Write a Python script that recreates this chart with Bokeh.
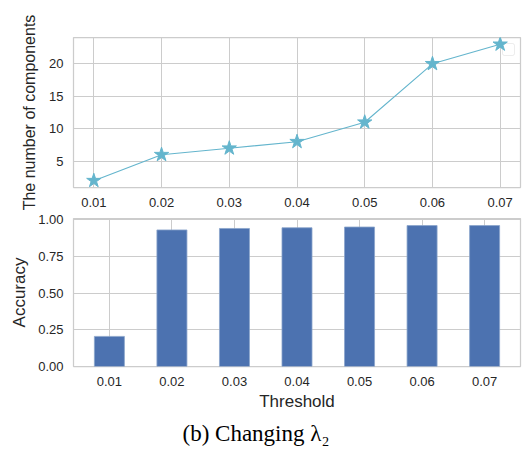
from bokeh.plotting import figure
from bokeh.layouts import column
from bokeh.models import Range1d, FixedTicker, NumeralTickFormatter, Title, BoxAnnotation, ColumnDataSource
from bokeh.embed import file_html
from bokeh.resources import INLINE

thresholds = [0.01, 0.02, 0.03, 0.04, 0.05, 0.06, 0.07]
tick_labels = ["0.01", "0.02", "0.03", "0.04", "0.05", "0.06", "0.07"]
components = [2, 6, 7, 8, 11, 20, 23]
accuracy = [0.205, 0.93, 0.94, 0.945, 0.95, 0.96, 0.96]
comp_ticks = [5, 10, 15, 20]
acc_ticks = [0.0, 0.25, 0.5, 0.75, 1.0]

LINE_C = "#64B5CD"
BAR_C = "#4C72B0"
GRID_C = "#cccccc"
TXT_C = "#262626"
SANS = "Liberation Sans"

def style(p):
    p.background_fill_color = "white"
    p.border_fill_color = "white"
    p.outline_line_color = GRID_C
    p.outline_line_width = 1.25
    for g in (p.xgrid, p.ygrid):
        g.grid_line_color = GRID_C
        g.grid_line_width = 1
    for ax in (p.xaxis, p.yaxis):
        ax.axis_line_color = None
        ax.major_tick_line_color = None
        ax.minor_tick_line_color = None
        ax.major_tick_out = 0
        ax.major_tick_in = 0
        ax.major_label_text_font = SANS
        ax.major_label_text_font_size = "13px"
        ax.major_label_text_color = TXT_C
        ax.major_label_standoff = 10
        ax.axis_label_text_font = SANS
        ax.axis_label_text_font_size = "17px"
        ax.axis_label_text_font_style = "normal"
        ax.axis_label_text_color = TXT_C
        ax.axis_label_standoff = 6

# top: line chart
p1 = figure(width=522, height=212, output_backend="svg", toolbar_location=None,
            x_range=Range1d(0.007, 0.073), y_range=Range1d(0.95, 24.05),
            min_border_left=73, min_border_right=2, min_border_top=37, min_border_bottom=25)
style(p1)
# empty legend box (drawn under the line so the star sits on top of it)
p1.add_layout(BoxAnnotation(left=502, right=514, top=43, bottom=55,
                            left_units="canvas", right_units="canvas",
                            top_units="canvas", bottom_units="canvas",
                            fill_color="white", fill_alpha=1.0, level="underlay",
                            line_color="#c4c4c4", line_width=1, border_radius=2))
src1 = ColumnDataSource(dict(x=thresholds, y=components))
p1.line("x", "y", source=src1, line_color=LINE_C, line_width=1.1)
p1.scatter("x", "y", source=src1, marker="star", size=15, fill_color=LINE_C, line_color=LINE_C)
p1.xaxis.ticker = FixedTicker(ticks=thresholds)
p1.xaxis.major_label_overrides = {t: l for t, l in zip(thresholds, tick_labels)}
p1.yaxis.ticker = FixedTicker(ticks=comp_ticks)
p1.yaxis.axis_label = "The number of components"
p1.yaxis.axis_label_text_font_size = "16px"
p1.yaxis.axis_label_standoff = 8

# bottom: bar chart
p2 = figure(width=522, height=238, output_backend="svg", toolbar_location=None,
            x_range=Range1d(0.01 - 0.00574, 0.07 + 0.00574), y_range=Range1d(0, 1.008),
            min_border_left=73, min_border_right=2, min_border_top=6, min_border_bottom=83)
style(p2)
src2 = ColumnDataSource(dict(x=thresholds, top=accuracy))
p2.vbar(x="x", top="top", bottom=0, width=0.0048, source=src2,
        fill_color=BAR_C, line_color="#8aa4cc", line_width=0.8)
p2.xaxis.ticker = FixedTicker(ticks=thresholds)
p2.xaxis.major_label_overrides = {t: l for t, l in zip(thresholds, tick_labels)}
p2.yaxis.ticker = FixedTicker(ticks=acc_ticks)
p2.yaxis.formatter = NumeralTickFormatter(format="0.00")
p2.yaxis.axis_label = "Accuracy"
p2.xaxis.axis_label = "Threshold"
p2.xaxis.axis_label_standoff = 3
cap = Title(text="(b) Changing λ₂", align="left", offset=109,
            text_font="Liberation Serif", text_font_size="23px",
            text_font_style="normal", text_color="black")
p2.add_layout(cap, "below")

layout = column(p1, p2, spacing=0)
open("out.html", "w").write(file_html(layout, INLINE))
